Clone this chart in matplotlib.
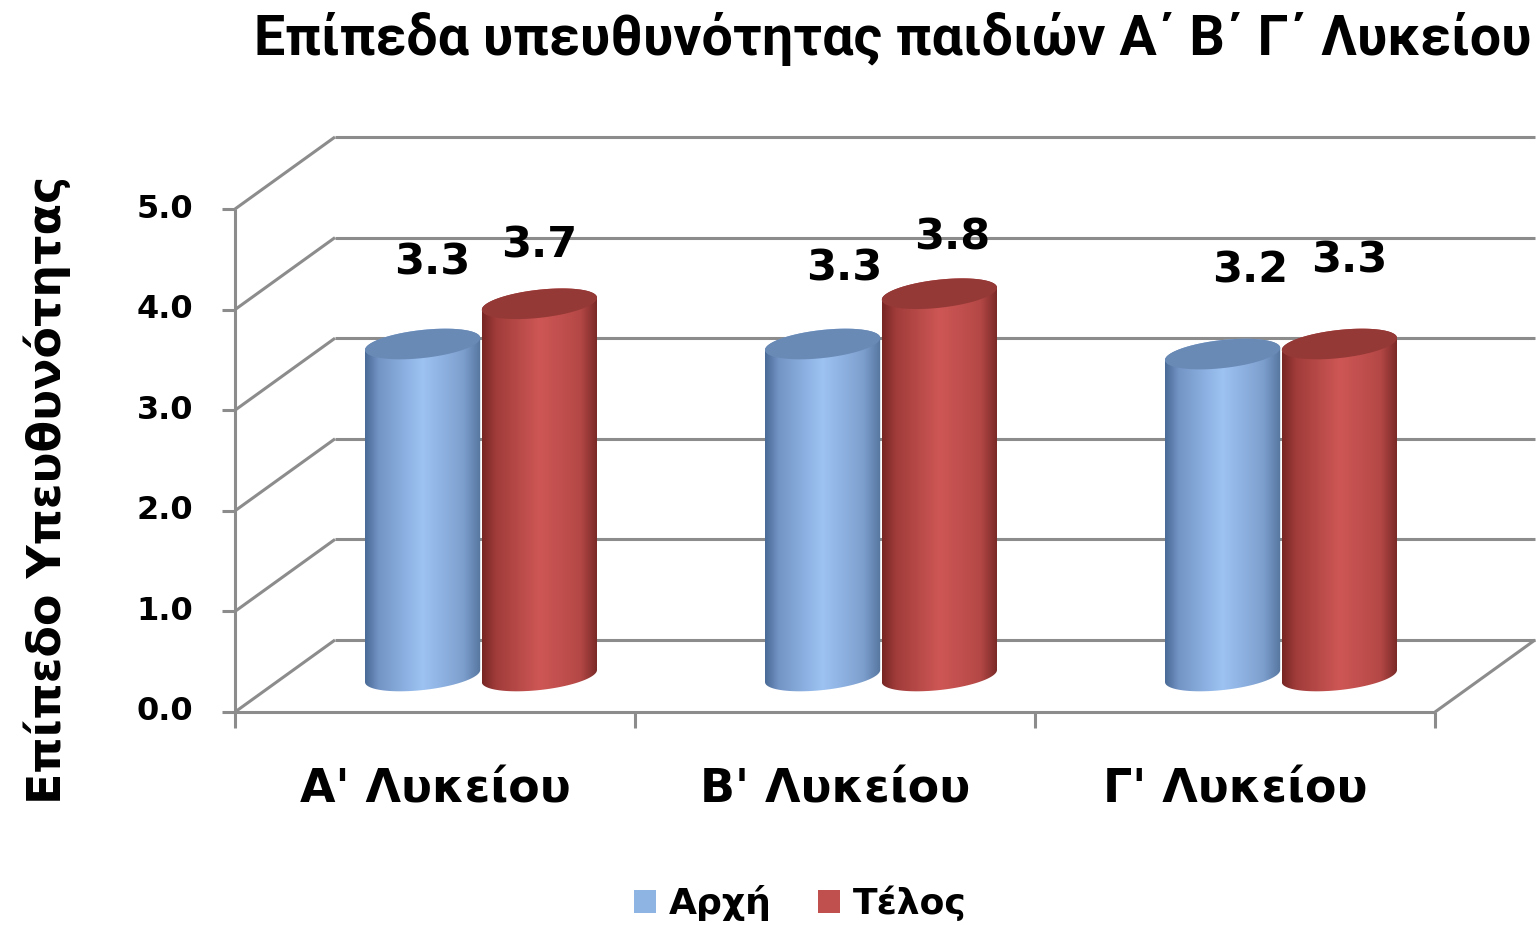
import numpy as np
import matplotlib.pyplot as plt
from matplotlib.path import Path
from matplotlib.patches import PathPatch, Patch
from matplotlib.colors import LinearSegmentedColormap

# data
categories = ["Α' Λυκείου", "Β' Λυκείου", "Γ' Λυκείου"]
series_names = ["Αρχή", "Τέλος"]
start_values = [3.3, 3.3, 3.2]
end_values = [3.7, 3.8, 3.3]
yticks = [0, 1, 2, 3, 4, 5]
title = "Επίπεδα υπευθυνότητας παιδιών Α΄ Β΄ Γ΄ Λυκείου"
ylabel = "Επίπεδο Υπευθυνότητας"

# look of the fake 3D frame (data units)
DX, DY = 0.25, 0.716        # shift from front to back wall
HALF_GAP = 0.146            # bar centre offset from group centre
R, B, K = 0.144, 0.14, 0.06  # cylinder radius, ellipse half height, tilt
# label nudges (Excel puts them a bit irregularly)
lift = [[1.17, 1.11, 1.19], [0.94, 0.92, 1.19]]
nudge = [[0.025, 0.055, 0.068], [0.0, 0.033, 0.025]]

body_cmaps = [
    LinearSegmentedColormap.from_list('b', [(0, '#4A6A96'), (0.12, '#7395C6'), (0.5, '#9DC3F3'),
                                            (0.85, '#7D9FCE'), (1, '#56769F')]),
    LinearSegmentedColormap.from_list('r', [(0, '#772624'), (0.12, '#A03C3A'), (0.5, '#CE5755'),
                                            (0.85, '#B44846'), (1, '#772826')]),
]
top_colors = ['#6A8AB6', '#953937']
legend_colors = ['#8DB4E2', '#C0504D']
grid_color = '#8C8C8C'

fig = plt.figure(figsize=(15.39, 9.25), dpi=100)
ax = fig.add_axes([0, 0, 1, 1])
ax.axis('off')

n = len(categories)
gkw = dict(color=grid_color, lw=2.2, solid_capstyle='butt', zorder=1)

for v in yticks:
    ax.plot([0, DX], [v, v + DY], **gkw)
    ax.plot([DX, n + DX], [v + DY, v + DY], **gkw)
    ax.plot([-0.0325, 0], [v, v], **gkw)
    ax.text(-0.105, v, f'{v:.1f}', ha='right', va='center', fontsize=23,
            fontweight='bold', family='DejaVu Sans')
ax.plot([0, 0], [0, yticks[-1]], **gkw)
ax.plot([0, n], [0, 0], **gkw)
ax.plot([n, n + DX], [0, DY], **gkw)
for i in range(n + 1):
    ax.plot([i, i], [0, -0.16], **gkw)

for i, cat in enumerate(categories):
    ax.text(i + 0.5, -0.775, cat, ha='center', va='center', fontsize=33,
            fontweight='bold', family='DejaVu Sans')


def ellipse(cx, cy, t):
    return cx + R * np.cos(t), cy + B * np.sin(t) + K * np.cos(t)


def cylinder(cx, y0, y1, cmap, top_color, z):
    t_low = np.linspace(np.pi, 2 * np.pi, 60)
    t_up = np.linspace(0, np.pi, 60)
    bx, by = ellipse(cx, y0, t_low)
    tx, ty = ellipse(cx, y1, t_up)
    verts = np.column_stack([np.r_[bx, tx], np.r_[by, ty]])
    body = PathPatch(Path(np.vstack([verts, verts[:1]]), closed=True),
                     facecolor='none', edgecolor='none', transform=ax.transData)
    ax.add_patch(body)
    grad = np.linspace(0, 1, 256).reshape(1, -1)
    im = ax.imshow(grad, cmap=cmap, extent=[cx - R, cx + R, y0 - B - K, y1 + B + K],
                   aspect='auto', origin='lower', interpolation='bilinear', zorder=z)
    im.set_clip_path(body)
    t = np.linspace(0, 2 * np.pi, 120)
    ex, ey = ellipse(cx, y1, t)
    ax.fill(ex, ey, color=top_color, lw=0, zorder=z + 0.5)


base = DY / 2
for s, vals in enumerate([start_values, end_values]):
    for i, v in enumerate(vals):
        cx = i + 0.49 + DX / 2 + (2 * s - 1) * HALF_GAP
        cylinder(cx, base, base + v, body_cmaps[s], top_colors[s], 2 + i + s)
        ax.text(cx + nudge[s][i], v + lift[s][i], f'{v:.1f}', ha='center', va='center',
                fontsize=31, fontweight='bold', family='DejaVu Sans', zorder=10)

ax.set_xlim(-235 / 400, (1539 - 235) / 400)
ax.set_ylim(-213 / 100.6, 712 / 100.6)

fig.text(0.58, 0.958, title, ha='center', va='center', fontsize=40, fontweight='bold',
         family=['Roboto', 'DejaVu Sans'])
fig.text(0.031, 0.47, ylabel, ha='center', va='center', rotation=90, fontsize=33,
         fontweight='bold', family='DejaVu Sans')

handles = [Patch(facecolor=c, edgecolor='none', label=l) for c, l in zip(legend_colors, series_names)]
fig.legend(handles=handles, loc='center', bbox_to_anchor=(0.52, 1 - 903 / 925), ncol=2,
           frameon=False, handlelength=0.6, handleheight=0.6, handletextpad=0.35,
           columnspacing=1.3, prop=dict(family='DejaVu Sans', weight='bold', size=26))

fig.savefig('out.png', dpi=100)
